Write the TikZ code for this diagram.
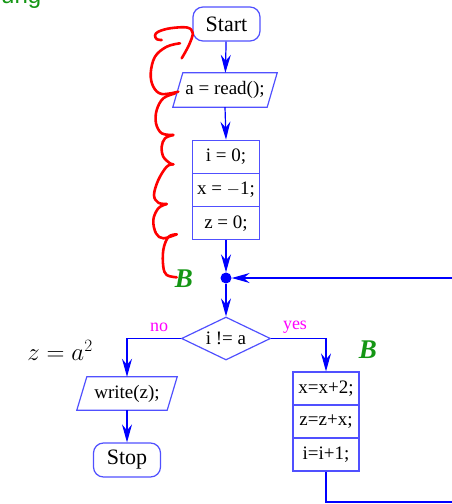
\documentclass[tikz,border=0pt]{standalone}
\usepackage{fontspec}
\setmainfont{Liberation Serif}
\newfontfamily\titlesans{Liberation Sans}
\usetikzlibrary{shapes.geometric,arrows.meta,calc}

\definecolor{flowblue}{RGB}{0,0,255}
\definecolor{boxblue}{RGB}{80,80,255}
\definecolor{markgreen}{RGB}{20,150,20}
\definecolor{markred}{RGB}{255,0,0}
\definecolor{labelmag}{RGB}{255,0,255}

\tikzset{
  body/.style={font=\fontsize{19}{22}\selectfont, text=black},
  terminal/.style={body, draw=boxblue, line width=1.2pt, rounded corners=10pt,
    minimum width=67pt, minimum height=34pt, inner sep=0pt,
    font=\fontsize{22}{26}\selectfont},
  stmt/.style={body, draw=boxblue, line width=1.2pt, minimum width=67pt,
    minimum height=33pt, inner sep=0pt},
  iobox/.style={body, inner sep=0pt, minimum height=34pt},
  slanted/.style={draw=boxblue, line width=1.2pt, line join=miter},
  test/.style={body, draw=boxblue, line width=1.2pt, shape=diamond, aspect=2.07,
    minimum width=89pt, minimum height=43pt, inner sep=0pt},
  joint/.style={circle, fill=flowblue, inner sep=0pt, minimum size=11pt},
  flow/.style={draw=flowblue, line width=1.2pt,
    -{Stealth[length=18pt,width=10pt,inset=6pt]}},
  plain/.style={draw=flowblue, line width=1.2pt},
  branch/.style={text=labelmag, font=\fontsize{18}{20}\selectfont},
  blocktag/.style={text=markgreen, font=\fontsize{27}{30}\selectfont\bfseries\itshape},
  brace/.style={draw=markred, line width=2.6pt, line cap=round, line join=round},
}

\begin{document}
\begin{tikzpicture}[x=1pt,y=-1pt]
\useasboundingbox (0,0) rectangle (452,504);

% heading fragment at the very top
\node[anchor=base west, inner sep=0pt, text=markgreen,
  font=\titlesans\fontsize{24}{28}\selectfont] (heading) at (1,3) {ung};

% main column
\node[terminal] (start) at (226.5,24) {Start};

\node[iobox, minimum width=94pt] (read) at (225,90) {a = read();};
\draw[slanted] ($(read.south west)+(-5,0)$) -- ($(read.north west)+(5,0)$)
  -- ($(read.north east)+(5,0)$) -- ($(read.south east)+(-5,0)$) -- cycle;

\node[stmt] (init1) at (226,156.7) {i = 0;};
\node[stmt] (init2) at (226,190) {x = $-$1;};
\node[stmt] (init3) at (226,223.3) {z = 0;};

\node[joint] (merge) at (226,278) {};

\node[test] (cond) at (226,338.5) {i != a};

% left branch
\node[iobox, minimum width=90pt, minimum height=33pt] (write) at (127,393.5) {write(z);};
\draw[slanted] ($(write.south west)+(-5,0)$) -- ($(write.north west)+(5,0)$)
  -- ($(write.north east)+(5,0)$) -- ($(write.south east)+(-5,0)$) -- cycle;
\node[terminal] (stop) at (127,460) {Stop};

% right branch
\node[stmt, minimum width=66pt] (step1) at (326,388.5) {x=x+2;};
\node[stmt, minimum width=66pt] (step2) at (326,421.5) {z=z+x;};
\node[stmt, minimum width=66pt] (step3) at (326,454.5) {i=i+1;};

% connectors
\draw[flow] (start) -- (read);
\draw[flow] (read.south) -- (init1.north);
\draw[flow] (init3) -- (merge);
\draw[flow] (merge) -- (cond);
\draw[flow] (cond.west) -| (write.north);
\draw[flow] (write.south) -- (stop.north);
\draw[flow] (cond.east) -| (step1.north);
\coordinate (loopcorner) at (470,502);
\draw[flow] (step3.south) |- (loopcorner) |- (merge.east);

% branch labels
\node[branch] (nolabel) at (159,327) {no};
\node[branch] (yeslabel) at (295,327) {yes};

% annotations
\node[text=black, font=\fontsize{24}{28}\selectfont] (result) at (60,350) {$z = a^2$};
\node[blocktag] (tagleft) at (184,279) {B};
\node[blocktag] (tagright) at (368,350) {B};

% hand-drawn brace along the first block
\draw[brace] plot[smooth, tension=0.6] coordinates {(181.7,58.3) (189,45) (192.7,33) (187,27.5) (170,28.3) (158.3,31.7) (155,35.5) (157,39.3) (161.7,40)};
\draw[brace] plot[smooth, tension=0.6] coordinates {(180,43.3) (166.7,46.7) (155,56.7) (150.7,73.3) (153.3,86.7) (161.7,94) (178.3,91.7)};
\draw[brace] plot[smooth, tension=0.6] coordinates {(175,93.5) (163.3,98.3) (156.7,110) (156,123.3) (161.7,133.3) (173.3,135)};
\draw[brace] plot[smooth, tension=0.6] coordinates {(173.3,135) (165,138.3) (161.7,146.7) (163.3,156.7) (170,163.3) (173.3,164.3)};
\draw[brace] plot[smooth, tension=0.6] coordinates {(173.3,164.3) (166.7,166.7) (158.3,180) (154,195) (158.3,202.7) (166.7,204)};
\draw[brace] plot[smooth, tension=0.6] coordinates {(166.7,204) (158.3,208.3) (153.3,220) (156,233.3) (163.3,238.3) (176.7,234.3)};
\draw[brace] plot[smooth, tension=0.6] coordinates {(176.7,234.3) (168.3,237) (163.3,250) (163.3,266.7) (166.7,275) (176.7,277.3)};
\end{tikzpicture}
\end{document}
